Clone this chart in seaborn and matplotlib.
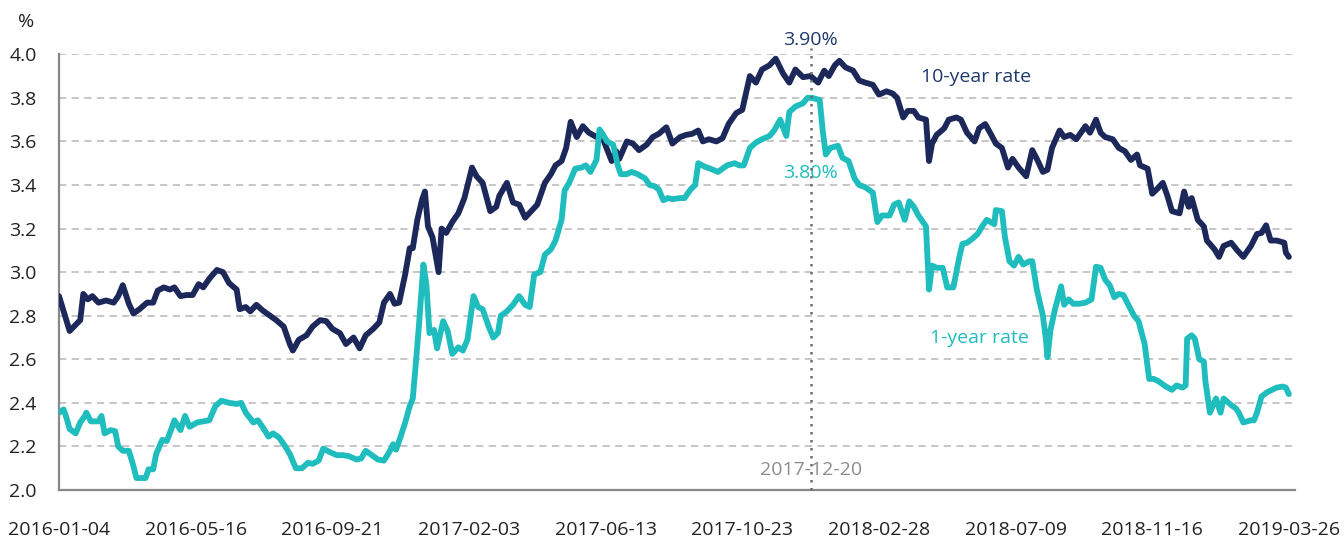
import numpy as np
import pandas as pd
import matplotlib
matplotlib.use("Agg")
import matplotlib.pyplot as plt
import seaborn as sns

# Trading-day number (0 = 2016-01-04) and yield in %
day_10y = [0, 7, 14, 16, 19, 22, 26, 31, 36, 39, 42, 46, 49, 53, 58, 62, 65, 69, 73, 76,
           80, 84, 88, 92, 95, 99, 104, 108, 112, 117, 119, 123, 126, 130, 134, 139, 143, 148, 152, 154,
           158, 163, 167, 172, 176, 180, 185, 189, 194, 198, 202, 207, 211, 214, 218, 221, 224, 228, 231, 233,
           236, 239, 241, 243, 246, 250, 252, 255, 259, 263, 267, 272, 275, 279, 284, 288, 290, 295, 299, 303,
           307, 311, 315, 320, 324, 327, 331, 334, 337, 341, 345, 349, 354, 357, 360, 364, 367, 369, 374, 378,
           382, 387, 391, 395, 400, 404, 409, 413, 417, 421, 424, 428, 433, 437, 441, 446, 450, 455, 459, 463,
           468, 472, 477, 481, 485, 490, 495, 500, 504, 507, 511, 514, 518, 523, 527, 531, 536, 540, 545, 549,
           552, 556, 559, 563, 566, 571, 573, 575, 578, 583, 586, 591, 594, 598, 603, 606, 610, 614, 617, 621,
           625, 628, 632, 637, 641, 644, 648, 651, 654, 659, 662, 666, 670, 673, 676, 679, 683, 686, 689, 694,
           698, 702, 706, 710, 712, 717, 720, 723, 727, 730, 733, 738, 741, 744, 746, 750, 754, 756, 761, 764,
           767, 772, 776, 780, 785, 789, 792, 795, 798, 802, 807, 808, 810]
rate_10y = [2.89, 2.73, 2.78, 2.90, 2.875, 2.89, 2.86, 2.87, 2.86, 2.89, 2.94, 2.855, 2.81, 2.83, 2.86, 2.86, 2.915, 2.93, 2.92, 2.93,
            2.89, 2.895, 2.895, 2.945, 2.93, 2.97, 3.01, 3.00, 2.95, 2.92, 2.83, 2.84, 2.82, 2.85, 2.825, 2.80, 2.78, 2.75, 2.67, 2.64,
            2.69, 2.71, 2.75, 2.78, 2.775, 2.74, 2.72, 2.67, 2.70, 2.65, 2.71, 2.74, 2.77, 2.86, 2.90, 2.855, 2.86, 2.99, 3.11, 3.11,
            3.24, 3.33, 3.37, 3.21, 3.16, 3.00, 3.20, 3.18, 3.23, 3.27, 3.34, 3.48, 3.44, 3.41, 3.28, 3.30, 3.35, 3.41, 3.32, 3.31,
            3.25, 3.28, 3.31, 3.41, 3.45, 3.49, 3.51, 3.57, 3.69, 3.62, 3.67, 3.64, 3.62, 3.635, 3.58, 3.51, 3.555, 3.52, 3.60, 3.59,
            3.56, 3.585, 3.62, 3.635, 3.665, 3.59, 3.62, 3.63, 3.635, 3.65, 3.60, 3.61, 3.60, 3.615, 3.68, 3.73, 3.745, 3.90, 3.87, 3.93,
            3.95, 3.98, 3.91, 3.87, 3.93, 3.895, 3.90, 3.87, 3.925, 3.90, 3.95, 3.97, 3.94, 3.925, 3.88, 3.87, 3.86, 3.815, 3.83, 3.82,
            3.80, 3.71, 3.74, 3.74, 3.71, 3.70, 3.51, 3.59, 3.63, 3.66, 3.70, 3.71, 3.70, 3.64, 3.60, 3.66, 3.68, 3.63, 3.59, 3.57,
            3.48, 3.52, 3.48, 3.44, 3.56, 3.52, 3.46, 3.47, 3.57, 3.65, 3.62, 3.63, 3.61, 3.64, 3.67, 3.64, 3.70, 3.64, 3.62, 3.61,
            3.57, 3.555, 3.515, 3.54, 3.49, 3.475, 3.36, 3.38, 3.41, 3.35, 3.28, 3.27, 3.37, 3.30, 3.34, 3.24, 3.21, 3.145, 3.105, 3.07,
            3.12, 3.135, 3.10, 3.07, 3.12, 3.175, 3.18, 3.215, 3.145, 3.145, 3.135, 3.09, 3.07]

day_1y = [0, 3, 5, 7, 11, 14, 17, 18, 21, 26, 28, 30, 34, 37, 39, 42, 46, 49, 51, 54,
          57, 59, 62, 64, 68, 71, 74, 76, 80, 83, 86, 91, 95, 99, 103, 107, 112, 117, 120, 123,
          128, 131, 134, 138, 141, 145, 149, 152, 156, 160, 164, 167, 171, 174, 178, 183, 187, 191, 196, 199,
          202, 207, 210, 214, 218, 220, 222, 225, 228, 231, 233, 235, 237, 240, 242, 244, 247, 249, 253, 256,
          259, 263, 266, 269, 273, 276, 279, 283, 286, 289, 291, 295, 299, 303, 307, 310, 313, 317, 320, 324,
          327, 331, 333, 336, 340, 344, 347, 350, 354, 356, 358, 361, 365, 368, 370, 374, 377, 381, 386, 389,
          392, 395, 398, 401, 404, 409, 412, 416, 419, 421, 425, 429, 434, 437, 440, 445, 448, 451, 455, 459,
          463, 468, 471, 475, 479, 481, 485, 490, 493, 496, 501, 503, 505, 508, 513, 516, 520, 524, 527, 531,
          536, 539, 542, 547, 550, 553, 557, 560, 563, 566, 571, 573, 575, 578, 582, 585, 589, 593, 595, 598,
          601, 605, 608, 611, 616, 617, 621, 623, 626, 629, 632, 635, 639, 641, 644, 648, 650, 651, 653, 656,
          660, 662, 665, 668, 672, 676, 680, 683, 686, 689, 692, 695, 698, 701, 705, 708, 711, 715, 718, 721,
          724, 729, 733, 736, 740, 742, 743, 746, 748, 751, 754, 755, 758, 762, 765, 767, 772, 775, 777, 780,
          785, 787, 789, 792, 796, 799, 802, 806, 808, 810]
rate_1y = [2.355, 2.37, 2.33, 2.28, 2.26, 2.31, 2.34, 2.355, 2.315, 2.315, 2.34, 2.26, 2.275, 2.27, 2.20, 2.18, 2.18, 2.11, 2.055, 2.055,
           2.055, 2.095, 2.095, 2.165, 2.23, 2.225, 2.28, 2.32, 2.275, 2.34, 2.29, 2.31, 2.315, 2.32, 2.385, 2.41, 2.40, 2.395, 2.40, 2.355,
           2.31, 2.32, 2.29, 2.245, 2.26, 2.24, 2.20, 2.165, 2.10, 2.10, 2.125, 2.12, 2.135, 2.19, 2.175, 2.16, 2.16, 2.155, 2.14, 2.145,
           2.18, 2.155, 2.14, 2.135, 2.18, 2.21, 2.185, 2.245, 2.31, 2.385, 2.42, 2.58, 2.75, 3.035, 2.94, 2.72, 2.735, 2.65, 2.775, 2.73,
           2.625, 2.655, 2.64, 2.69, 2.89, 2.84, 2.83, 2.75, 2.70, 2.72, 2.80, 2.82, 2.85, 2.89, 2.85, 2.84, 2.99, 3.00, 3.08, 3.105,
           3.145, 3.24, 3.375, 3.41, 3.475, 3.48, 3.49, 3.46, 3.515, 3.655, 3.635, 3.60, 3.585, 3.49, 3.45, 3.45, 3.46, 3.45, 3.43, 3.40,
           3.395, 3.38, 3.33, 3.34, 3.335, 3.34, 3.34, 3.38, 3.40, 3.50, 3.485, 3.475, 3.46, 3.475, 3.49, 3.50, 3.49, 3.49, 3.57, 3.595,
           3.61, 3.625, 3.65, 3.70, 3.625, 3.735, 3.76, 3.775, 3.80, 3.80, 3.79, 3.65, 3.54, 3.57, 3.58, 3.525, 3.51, 3.43, 3.40, 3.39,
           3.365, 3.23, 3.26, 3.26, 3.31, 3.32, 3.24, 3.325, 3.30, 3.26, 3.21, 2.92, 3.03, 3.02, 3.02, 2.93, 2.93, 3.07, 3.13, 3.135,
           3.15, 3.175, 3.21, 3.24, 3.22, 3.285, 3.28, 3.16, 3.05, 3.03, 3.07, 3.035, 3.05, 3.05, 2.92, 2.80, 2.69, 2.61, 2.735, 2.83,
           2.935, 2.85, 2.875, 2.855, 2.855, 2.86, 2.875, 3.025, 3.02, 2.965, 2.94, 2.885, 2.90, 2.895, 2.84, 2.80, 2.775, 2.67, 2.51, 2.51,
           2.50, 2.475, 2.46, 2.48, 2.47, 2.48, 2.695, 2.71, 2.695, 2.60, 2.59, 2.50, 2.355, 2.42, 2.355, 2.42, 2.39, 2.375, 2.355, 2.31,
           2.32, 2.32, 2.355, 2.43, 2.45, 2.46, 2.47, 2.475, 2.47, 2.44]

# x tick labels (every 90 trading days) and the marked date
tick_days = [0, 90, 180, 270, 360, 450, 540, 630, 720, 810]
tick_labels = ["2016-01-04", "2016-05-16", "2016-09-21", "2017-02-03", "2017-06-13",
               "2017-10-23", "2018-02-28", "2018-07-09", "2018-11-16", "2019-03-26"]
marker_day = 495
marker_label = "2017-12-20"
peak_10y_label = "3.90%"
peak_1y_label = "3.80%"

navy = "#1c2859"
navy_text = "#1f3a6c"
teal = "#1fbdbd"

sns.set_style("white")
plt.rcParams["font.family"] = ["Open Sans", "DejaVu Sans"]

df10 = pd.DataFrame({"day": day_10y, "rate": rate_10y})
df1 = pd.DataFrame({"day": day_1y, "rate": rate_1y})

fig = plt.figure(figsize=(13.44, 5.38), dpi=100)
ax = fig.add_axes([0.0439, 0.0892, 0.9196, 0.8099])

sns.lineplot(data=df10, x="day", y="rate", color=navy, lw=4.2, ax=ax,
             solid_joinstyle="round", solid_capstyle="round", zorder=3)
sns.lineplot(data=df1, x="day", y="rate", color=teal, lw=4.2, ax=ax,
             solid_joinstyle="round", solid_capstyle="round", zorder=3)

ax.set_xlim(0, 814)
ax.set_ylim(2.0, 4.0)
ax.set_xlabel("")
ax.set_ylabel("")

# axes styling
for side in ["top", "right"]:
    ax.spines[side].set_visible(False)
for side in ["left", "bottom"]:
    ax.spines[side].set_color("#888888")
    ax.spines[side].set_linewidth(1.6)

ax.set_yticks(np.arange(2.0, 4.01, 0.2))
ax.set_yticklabels([f"{v:.1f}" for v in np.arange(2.0, 4.01, 0.2)])
ax.yaxis.grid(True, linestyle=(0, (4, 3)), color="#c2c2c2", lw=1.3)
ax.set_axisbelow(True)

ax.set_xticks(tick_days)
ax.set_xticklabels(tick_labels)
ax.set_xticks(range(0, 811, 30), minor=True)
ax.tick_params(axis="x", which="both", length=5, width=1.3, color="#888888", direction="out")
ax.tick_params(axis="x", which="major", pad=17, labelsize=14, labelcolor="#222222")
ax.tick_params(axis="y", length=0, pad=16, labelsize=14, labelcolor="#222222")

ax.text(-0.027, 1.074, "%", transform=ax.transAxes, ha="center", va="center",
        fontsize=14, color="#222222")

# marked date
ax.vlines(marker_day, 2.0, 4.03, colors="#6e6e6e", linestyles=(0, (1, 2.2)), lw=1.8,
          clip_on=False, zorder=4)
ax.text(marker_day, 4.066, peak_10y_label, ha="center", va="center", fontsize=14, color=navy_text)
ax.text(marker_day, 3.457, peak_1y_label, ha="center", va="center", fontsize=14, color=teal)
ax.text(marker_day, 2.093, marker_label, ha="center", va="center", fontsize=14, color="#8c8c8c")

ax.text(604, 3.897, "10-year rate", ha="center", va="center", fontsize=14, color=navy_text)
ax.text(606, 2.70, "1-year rate", ha="center", va="center", fontsize=14, color=teal)

fig.savefig("out.png", dpi=100)
